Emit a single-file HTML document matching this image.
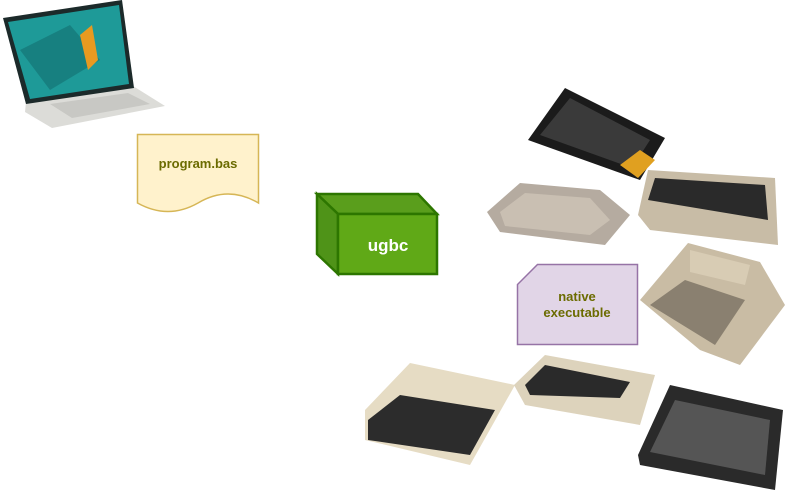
<!DOCTYPE html>
<html><head><style>
html,body{margin:0;padding:0;background:#fff;width:787px;height:494px;overflow:hidden}
text{font-family:"Liberation Sans",sans-serif;font-weight:bold}
</style></head><body>
<svg width="787" height="494" viewBox="0 0 787 494" xmlns="http://www.w3.org/2000/svg">
<!-- laptop -->
<polygon points="26,102 133,86 165,106 52,128 25,112" fill="#dcdcd8"/>
<polygon points="50,104 128,93 150,104 72,118" fill="#c8c8c4"/>
<polygon points="3,18 122,0 134,88 26,104" fill="#1c2a2a"/>
<polygon points="8,22 119,5 129,84 30,99" fill="#1e9a98"/>
<polygon points="20,50 70,25 100,60 50,90" fill="#137070" opacity="0.6"/>
<polygon points="80,35 92,25 98,60 88,70" fill="#e89a20"/>
<!-- program.bas -->
<path d="M137.5,134.5 H258.5 V203 Q228,185 198,203 Q168,220 137.5,203 Z" fill="#fff2cc" stroke="#d6b656" stroke-width="1.5"/>
<text x="198" y="168" text-anchor="middle" font-size="13" fill="#6b6b00">program.bas</text>
<!-- ugbc cube -->
<polygon points="317,194 418,194 437,214 338,214" fill="#5a9e1c" stroke="#2d7600" stroke-width="2.5"/>
<polygon points="317,194 338,214 338,274 317,254" fill="#4f9318" stroke="#2d7600" stroke-width="2.5"/>
<rect x="338" y="214" width="99" height="60" fill="#60a917" stroke="#2d7600" stroke-width="2.5"/>
<text x="388" y="251" text-anchor="middle" font-size="17" fill="#fff">ugbc</text>
<!-- ZX spectrum -->
<polygon points="528,140 565,88 665,138 640,180" fill="#1b1b1b"/>
<polygon points="540,135 570,98 650,140 632,168" fill="#3a3a3a"/>
<polygon points="620,165 640,150 655,160 638,178" fill="#e0a020"/>
<!-- console -->
<polygon points="487,212 520,183 600,190 630,215 605,245 500,232" fill="#b5aba0"/>
<polygon points="500,212 525,193 590,198 610,220 590,235 505,226" fill="#c9bfb2"/>
<!-- C64 -->
<polygon points="638,215 648,170 775,178 778,245 650,230" fill="#c8bca6"/>
<polygon points="648,200 655,178 765,185 768,220" fill="#2a2a2a"/>
<!-- native executable -->
<path d="M537.5,264.5 H637.5 V344.5 H517.5 V284.5 Z" fill="#e1d5e7" stroke="#9673a6" stroke-width="1.5"/>
<text x="577" y="301" text-anchor="middle" font-size="13" fill="#6b6b00">native</text>
<text x="577" y="317" text-anchor="middle" font-size="13" fill="#6b6b00">executable</text>
<!-- Atari 400 -->
<polygon points="640,300 688,243 760,262 785,305 740,365 700,350" fill="#c9bca4"/>
<polygon points="650,305 685,280 745,300 715,345" fill="#8a8070"/>
<polygon points="690,250 750,265 745,285 690,272" fill="#d8ccb4"/>
<!-- 800XL -->
<polygon points="365,410 410,363 515,385 470,465 365,440" fill="#e6dcc4"/>
<polygon points="368,420 400,395 495,410 470,455 368,440" fill="#2c2c2c"/>
<!-- 65XE -->
<polygon points="514,385 545,355 655,375 640,425 525,405" fill="#ddd3bc"/>
<polygon points="525,385 545,365 630,382 620,398 530,395" fill="#2a2a2a"/>
<!-- C16 -->
<polygon points="638,455 670,385 783,410 775,490 640,465" fill="#2a2a2a"/>
<polygon points="650,452 675,400 770,420 765,475" fill="#555"/>
</svg>
</body></html>
